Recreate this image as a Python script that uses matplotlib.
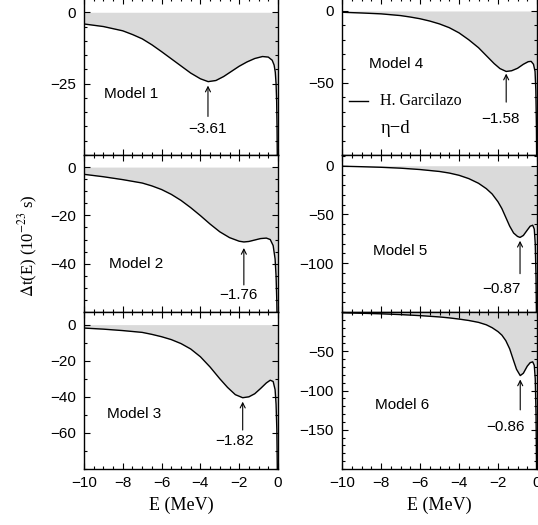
import numpy as np
import matplotlib
matplotlib.use("Agg")
import matplotlib.pyplot as plt
from matplotlib.ticker import MultipleLocator, FixedLocator

plt.rcParams["font.family"] = ["Liberation Sans", "DejaVu Sans"]
plt.rcParams["mathtext.fontset"] = "stix"

# energies (MeV) and time delays (1e-23 s)
e_m1 = [-10, -9, -8, -7.5, -7, -6.5, -6, -5.5, -5, -4.5, -4, -3.6, -3.2, -2.8, -2.4,
        -2, -1.6, -1.2, -0.8, -0.5, -0.3, -0.2, -0.14, -0.1, -0.07, -0.05, -0.03]
dt_m1 = [-4.1, -5.0, -6.5, -7.8, -9.3, -11.4, -13.8, -16.3, -18.8, -21.3, -23.3, -24.3,
         -23.9, -22.5, -20.7, -18.9, -17.4, -16.2, -15.5, -15.7, -16.8, -18.5, -21,
         -25, -31, -40, -55]

e_m2 = [-10, -9, -8, -7, -6.5, -6, -5.5, -5, -4.5, -4, -3.5, -3, -2.5, -2, -1.76,
        -1.5, -1.2, -0.9, -0.6, -0.4, -0.25, -0.15, -0.1, -0.06, -0.03]
dt_m2 = [-3.0, -4.0, -5.2, -6.6, -7.8, -9.3, -11.3, -13.8, -16.8, -20.1, -23.6, -26.8,
         -29.2, -30.7, -31.0, -30.8, -30.2, -29.6, -29.4, -30.0, -32.5, -38, -45, -56, -75]

e_m3 = [-10, -9, -8, -7, -6.5, -6, -5.5, -5, -4.5, -4, -3.5, -3, -2.6, -2.2, -1.82,
        -1.5, -1.2, -0.9, -0.6, -0.4, -0.25, -0.15, -0.1, -0.06, -0.03]
dt_m3 = [-1.9, -2.5, -3.3, -4.3, -5.4, -6.7, -8.3, -10.5, -13.5, -17.8, -23.5, -30,
         -34.8, -38.8, -40.5, -40.0, -38.3, -35.4, -32.3, -30.8, -31.5, -36, -44, -58, -85]

e_m4 = [-10, -9, -8, -7, -6.5, -6, -5.5, -5, -4.5, -4, -3.5, -3, -2.6, -2.2, -1.9,
        -1.58, -1.3, -1.0, -0.7, -0.45, -0.3, -0.18, -0.1, -0.06, -0.03, -0.01]
dt_m4 = [-0.9, -1.4, -2.0, -3.2, -4.2, -5.4, -7.0, -9.0, -11.6, -15.2, -20, -25.5,
         -31, -36.5, -40, -42, -41.5, -39.8, -37, -35.2, -35, -37, -42, -55, -80, -120]

e_m5 = [-10, -9, -8, -7, -6, -5, -4.5, -4, -3.5, -3, -2.6, -2.3, -2, -1.8, -1.6, -1.4,
        -1.2, -1.0, -0.87, -0.7, -0.5, -0.35, -0.22, -0.14, -0.09, -0.05, -0.02]
dt_m5 = [-0.5, -1.0, -1.6, -2.5, -3.9, -5.9, -7.5, -9.8, -13.2, -18, -23.5, -29, -37,
         -44, -53, -62, -69, -72.5, -73.5, -71.5, -66, -62, -61, -65, -80, -115, -170]

e_m6 = [-10, -9, -8, -7, -6, -5, -4.5, -4, -3.5, -3, -2.6, -2.3, -2, -1.8, -1.6, -1.4,
        -1.2, -1.05, -0.86, -0.7, -0.5, -0.35, -0.22, -0.14, -0.09, -0.05, -0.02]
dt_m6 = [-1.0, -1.6, -2.3, -3.3, -4.6, -6.3, -7.5, -9.0, -10.8, -13.2, -16.3, -20, -25,
         -29.5, -36.5, -47, -62, -73, -81, -78, -69, -64.5, -63.5, -68, -85, -130, -210]

model_names = ["Model 1", "Model 2", "Model 3", "Model 4", "Model 5", "Model 6"]
min_labels = ["\u22123.61", "\u22121.76", "\u22121.82", "\u22121.58", "\u22120.87", "\u22120.86"]
min_pos = [-3.61, -1.76, -1.82, -1.58, -0.87, -0.86]

curves = [(e_m1, dt_m1), (e_m2, dt_m2), (e_m3, dt_m3),
          (e_m4, dt_m4), (e_m5, dt_m5), (e_m6, dt_m6)]

# layout / per-panel settings
ylims = [(-50, 5), (-60, 5), (-80, 7), (-100, 9), (-150, 11), (-200, 0)]
yticks = [[0, -25], [0, -20, -40], [0, -20, -40, -60],
          [0, -50], [0, -50, -100], [-50, -100, -150]]
yminor = [5, 5, 10, 10, 10, 10]
# arrow tip, arrow tail, label y
arrow_y = [(-25.7, -36.5, -41), (-33.5, -48.8, -52.9), (-42.7, -58.4, -64.5),
           (-43.5, -63.3, -75), (-77, -110.7, -126), (-86, -124.7, -146)]
label_dx = [0.0, -0.3, -0.4, -0.3, -0.95, -0.75]
model_xy = [(-8.95, -28.8), (-8.71, -40.2), (-8.83, -49.5),
            (-8.64, -36.5), (-8.42, -87), (-8.3, -119)]

W, H = 538, 525
fig = plt.figure(figsize=(W / 100, H / 100), dpi=100)

cols = [(84, 194), (342, 195)]
rows = [(-2, 155), (155, 312), (312, 469)]

axes = []
for c, (x0, w) in enumerate(cols):
    for r, (top, bot) in enumerate(rows):
        ax = fig.add_axes([x0 / W, 1 - bot / H, w / W, (bot - top) / H])
        axes.append(ax)

for i, ax in enumerate(axes):
    e, dt = curves[i]
    ax.fill_between(e, dt, 0, color="#dadada", lw=0)
    ax.plot(e, dt, color="black", lw=1.0)
    ax.set_xlim(-10, 0)
    ax.set_ylim(*ylims[i])

    ax.xaxis.set_major_locator(MultipleLocator(2))
    ax.xaxis.set_minor_locator(MultipleLocator(0.5))
    ax.yaxis.set_major_locator(FixedLocator(yticks[i]))
    ax.yaxis.set_minor_locator(MultipleLocator(yminor[i]))
    ax.tick_params(which="both", direction="in", top=True, right=True,
                   labelsize=11, width=0.8)
    ax.tick_params(axis="y", pad=6)
    ax.tick_params(axis="x", pad=5)
    ax.tick_params(which="major", length=4.5)
    ax.tick_params(which="minor", length=2.4)
    for s in ax.spines.values():
        s.set_linewidth(1.0)

    if i % 3 != 2:
        ax.tick_params(labelbottom=False)
    else:
        ax.set_xlabel("E (MeV)", family="Liberation Serif", fontsize=13, labelpad=5)

    tip, tail, ly = arrow_y[i]
    ax.annotate("", xy=(min_pos[i], tip), xytext=(min_pos[i], tail),
                arrowprops=dict(arrowstyle="->", lw=0.8, color="black",
                                shrinkA=0, shrinkB=0, mutation_scale=9))
    ax.text(min_pos[i] + label_dx[i], ly, min_labels[i], fontsize=11,
            ha="center", va="center")
    mx, my = model_xy[i]
    ax.text(mx, my, model_names[i], fontsize=11, ha="left", va="center")

# legend-like annotation in Model 4 panel
ax4 = axes[3]
ax4.plot([-9.65, -8.67], [-62.8, -62.8], color="black", lw=1.0)
ax4.text(-8.04, -62.8, "H. Garcilazo", family="Liberation Serif", fontsize=11.5,
         ha="left", va="center")
ax4.text(-8.04, -81.9, "\u03b7\u2212d", family="Liberation Serif", fontsize=13.5,
         ha="left", va="center")

fig.text(28 / W, 1 - 246 / H, r"$\Delta$t(E) (10$^{-23}$ s)", rotation=90,
         family="Liberation Serif", fontsize=12, ha="center", va="center")

fig.savefig("out.png", dpi=100)
